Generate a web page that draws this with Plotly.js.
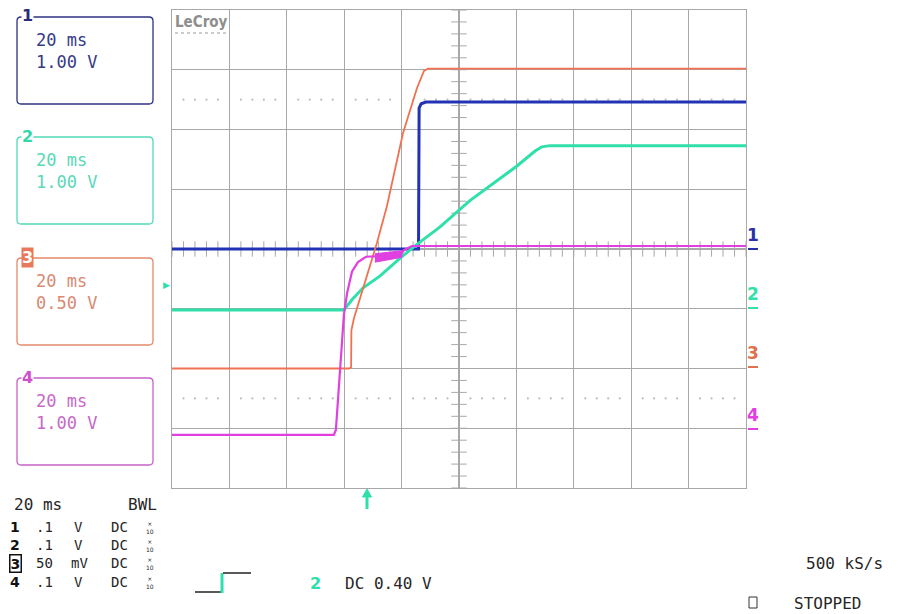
<!DOCTYPE html>
<html>
<head>
<meta charset="utf-8">
<script src="https://cdn.plot.ly/plotly-3.0.1.min.js"></script>
<style>html,body{margin:0;padding:0;background:#fff}#chart{width:899px;height:614px}</style>
</head>
<body>
<div id="chart"></div>
<script>
// ---- Data (time in ms, 20 ms/div; values in volts per channel) ----
const ch1Time = [0, 85.9, 86.1, 86.8, 88.5, 200];
const ch1Volt = [0, 0, 2.36, 2.43, 2.46, 2.46];

const ch2Time = [0, 59.9, 62.7, 66.6, 72.5, 80.5, 85.7, 93.4, 103.8, 120.2, 126.5, 128.9, 131.7, 200];
const ch2Volt = [-0.02, -0.02, 0.15, 0.35, 0.55, 0.89, 1.09, 1.37, 1.81, 2.39, 2.64, 2.71, 2.73, 2.73];

const ch3Time = [0, 61.7, 62.4, 62.5, 63.4, 64.8, 67.9, 71.4, 74.9, 80.5, 85.4, 87.8, 89.2, 200];
const ch3Volt = [0, 0, 0.01, 0.32, 0.42, 0.53, 0.77, 1.05, 1.36, 1.97, 2.35, 2.49, 2.51, 2.51];

const ch4Time = [0, 56.4, 57.1, 57.8, 58.9, 59.9, 61.0, 62.7, 64.8, 67.6, 72.5, 79.4, 80.8, 83.6, 200];
const ch4Volt = [-0.11, -0.11, -0.03, 0.47, 1.31, 1.90, 2.26, 2.62, 2.78, 2.87, 2.88, 2.88, 2.98, 3.05, 3.05];
// noisy envelope of channel 4 on its plateau
const ch4BandTime = [70.7, 80.1, 80.1, 70.7];
const ch4BandVolt = [2.92, 2.97, 2.86, 2.78];

// channel settings (text)
const chNames = ['1', '2', '3', '4'];
const chTimeDiv = ['20 ms', '20 ms', '20 ms', '20 ms'];
const chVoltDiv = ['1.00 V', '1.00 V', '0.50 V', '1.00 V'];
const probeScale = ['.1', '.1', '50', '.1'];
const probeUnit = ['V', 'V', 'mV', 'V'];
const coupling = ['DC', 'DC', 'DC', 'DC'];
const timebaseText = '20 ms';
const bwlText = 'BWL';
const trigText = 'DC 0.40 V';
const rateText = '500 kS/s';
const stateText = 'STOPPED';

// ---- Styling ----
const C1 = '#2232b4', C2 = '#2fe0aa', C3 = '#f07252', C4 = '#e040e0';
const BOX = ['#2e3282', '#52dab8', '#e48a6c', '#c862c8'];
const TXT = ['#353a86', '#5ad8b8', '#d98a72', '#c868c8'];
const NUMC = ['#2a2e7a', '#36d6a8', '#ffffff', '#d050d0'];
const GRID = '#a8a8a8';
const MONO = 'DejaVu Sans Mono, monospace';
const BOLD = 'DejaVu Sans, sans-serif';

const L = 172, R = 746, T = 10, B = 488;
const px = x => (x - L) / (R - L);
const py = y => (B - y) / (B - T);

// ---- Grid decorations ----
const ctrTickY = [], ctrTickX = [];
for (let i = 0; i <= 40; i++) ctrTickY.push(-4 + i * 0.2);
for (let i = 0; i <= 50; i++) ctrTickX.push(i * 4);
const dotX = [], dotYu = [], dotYl = [];
for (let d = 0; d < 10; d++) for (let k = 1; k <= 4; k++) { dotX.push(d * 20 + k * 4); dotYu.push(2.5); dotYl.push(-2.5); }

const traces = [
  {x: ctrTickY.map(() => 100), y: ctrTickY, mode: 'markers', hoverinfo: 'skip',
   marker: {symbol: 'line-ew', size: 11, line: {width: 1, color: GRID}}},
  {x: ctrTickX, y: ctrTickX.map(() => 0), mode: 'markers', hoverinfo: 'skip',
   marker: {symbol: 'line-ns', size: 11, line: {width: 1, color: GRID}}},
  {x: dotX.concat(dotX), y: dotYu.concat(dotYl), mode: 'markers', hoverinfo: 'skip',
   marker: {symbol: 'circle', size: 2.2, color: '#bdbdbd'}},
  {x: ch1Time, y: ch1Volt, mode: 'lines', line: {color: C1, width: 3}, yaxis: 'y'},
  {x: ch2Time, y: ch2Volt, mode: 'lines', line: {color: C2, width: 3}, yaxis: 'y2'},
  {x: ch3Time, y: ch3Volt, mode: 'lines', line: {color: C3, width: 1.8}, yaxis: 'y3'},
  {x: ch4BandTime, y: ch4BandVolt, mode: 'lines', fill: 'toself', fillcolor: C4, line: {color: C4, width: 1}, yaxis: 'y4'},
  {x: ch4Time, y: ch4Volt, mode: 'lines', line: {color: C4, width: 2.2}, yaxis: 'y4'}
];

// ---- Shapes ----
function rr(x0, y0, x1, y1, r) {
  const X = v => px(v).toFixed(5), Y = v => py(v).toFixed(5);
  return `M ${X(x0 + r)},${Y(y0)} L ${X(x1 - r)},${Y(y0)} Q ${X(x1)},${Y(y0)} ${X(x1)},${Y(y0 + r)} ` +
         `L ${X(x1)},${Y(y1 - r)} Q ${X(x1)},${Y(y1)} ${X(x1 - r)},${Y(y1)} L ${X(x0 + r)},${Y(y1)} ` +
         `Q ${X(x0)},${Y(y1)} ${X(x0)},${Y(y1 - r)} L ${X(x0)},${Y(y0 + r)} Q ${X(x0)},${Y(y0)} ${X(x0 + r)},${Y(y0)} Z`;
}
const boxTops = [17, 137, 258, 378];
const shapes = [];
const annotations = [];
boxTops.forEach((top, i) => {
  shapes.push({type: 'path', xref: 'paper', yref: 'paper', path: rr(17, top, 153, top + 87, 4),
               line: {color: BOX[i], width: 1.3}});
  annotations.push({xref: 'paper', yref: 'paper', x: px(34), y: py(top + 23), xanchor: 'left', yanchor: 'middle',
                    text: chTimeDiv[i], showarrow: false, font: {family: MONO, size: 17, color: TXT[i]}});
  annotations.push({xref: 'paper', yref: 'paper', x: px(34), y: py(top + 45), xanchor: 'left', yanchor: 'middle',
                    text: chVoltDiv[i], showarrow: false, font: {family: MONO, size: 17, color: TXT[i]}});
  annotations.push({xref: 'paper', yref: 'paper', x: px(27.5), y: py(top - 1), xanchor: 'center', yanchor: 'middle',
                    text: '<b>' + chNames[i] + '</b>', showarrow: false, borderpad: 0,
                    bgcolor: i === 2 ? '#e8785a' : '#ffffff',
                    font: {family: BOLD, size: 16, color: NUMC[i]}});
});

// right-side ground markers
const gndY = [249, 308, 367, 429];
const sideC = ['#2a30a8', C2, '#e0704e', C4];
gndY.forEach((g, i) => {
  shapes.push({type: 'line', xref: 'paper', yref: 'paper', x0: px(748), x1: px(758), y0: py(g), y1: py(g),
               line: {color: sideC[i], width: 2}});
  annotations.push({xref: 'paper', yref: 'paper', x: px(753), y: py(g - 2), xanchor: 'center', yanchor: 'bottom',
                    text: '<b>' + chNames[i] + '</b>', showarrow: false,
                    font: {family: BOLD, size: 17, color: sideC[i]}});
});

// LeCroy logo
annotations.push({xref: 'paper', yref: 'paper', x: px(173), y: py(11), xanchor: 'left', yanchor: 'top',
                  text: '<b>LeCroy</b>', showarrow: false, font: {family: 'DejaVu Sans Condensed, DejaVu Sans', size: 15, color: '#8e8e8e'}});
shapes.push({type: 'line', xref: 'paper', yref: 'paper', x0: px(175), x1: px(227), y0: py(33), y1: py(33),
             line: {color: '#9a9a9a', width: 1, dash: 'dot'}});

// trigger level marker
annotations.push({xref: 'paper', yref: 'paper', x: px(166), y: py(285), xanchor: 'center', yanchor: 'middle',
                  text: '▶', showarrow: false, font: {family: BOLD, size: 9, color: C2}});
// trigger time arrow
shapes.push({type: 'line', xref: 'paper', yref: 'paper', x0: px(367), x1: px(367), y0: py(495), y1: py(509),
             line: {color: C2, width: 3}});
shapes.push({type: 'path', xref: 'paper', yref: 'paper',
             path: `M ${px(362.5)},${py(497)} L ${px(371.5)},${py(497)} L ${px(367)},${py(489)} Z`,
             fillcolor: C2, line: {color: C2, width: 1}});

// bottom-left status block
const DARK = '#262626';
annotations.push({xref: 'paper', yref: 'paper', x: px(12), y: py(504), xanchor: 'left', yanchor: 'middle',
                  text: timebaseText, showarrow: false, font: {family: MONO, size: 16, color: DARK}});
annotations.push({xref: 'paper', yref: 'paper', x: px(159), y: py(504), xanchor: 'right', yanchor: 'middle',
                  text: bwlText, showarrow: false, font: {family: MONO, size: 16, color: DARK}});
const rowY = [527, 545, 563, 582];
rowY.forEach((ry, i) => {
  annotations.push({xref: 'paper', yref: 'paper', x: px(15), y: py(ry), xanchor: 'center', yanchor: 'middle',
                    text: '<b>' + chNames[i] + '</b>', showarrow: false,
                    bordercolor: i === 2 ? '#111' : 'rgba(0,0,0,0)', borderwidth: i === 2 ? 1.5 : 0, borderpad: 0,
                    font: {family: BOLD, size: 14, color: '#111'}});
  annotations.push({xref: 'paper', yref: 'paper', x: px(34), y: py(ry), xanchor: 'left', yanchor: 'middle',
                    text: probeScale[i], showarrow: false, font: {family: MONO, size: 14, color: DARK}});
  annotations.push({xref: 'paper', yref: 'paper', x: px(i === 2 ? 69 : 72), y: py(ry), xanchor: 'left', yanchor: 'middle',
                    text: probeUnit[i], showarrow: false, font: {family: MONO, size: 14, color: DARK}});
  annotations.push({xref: 'paper', yref: 'paper', x: px(109), y: py(ry), xanchor: 'left', yanchor: 'middle',
                    text: coupling[i], showarrow: false, font: {family: MONO, size: 14, color: DARK}});
  annotations.push({xref: 'paper', yref: 'paper', x: px(150), y: py(ry), xanchor: 'center', yanchor: 'middle',
                    text: '×<br>10', showarrow: false, font: {family: BOLD, size: 6, color: DARK}});
});

// trigger icon
shapes.push({type: 'line', xref: 'paper', yref: 'paper', x0: px(195), x1: px(221), y0: py(592), y1: py(592), line: {color: '#222', width: 1.5}});
shapes.push({type: 'line', xref: 'paper', yref: 'paper', x0: px(222), x1: px(222), y0: py(593), y1: py(573), line: {color: C2, width: 3}});
shapes.push({type: 'line', xref: 'paper', yref: 'paper', x0: px(223), x1: px(251), y0: py(573), y1: py(573), line: {color: '#222', width: 1.5}});
annotations.push({xref: 'paper', yref: 'paper', x: px(315), y: py(583), xanchor: 'center', yanchor: 'middle',
                  text: '<b>2</b>', showarrow: false, font: {family: BOLD, size: 16, color: C2}});
annotations.push({xref: 'paper', yref: 'paper', x: px(343), y: py(583), xanchor: 'left', yanchor: 'middle',
                  text: trigText, showarrow: false, font: {family: MONO, size: 16, color: DARK}});

// bottom-right
annotations.push({xref: 'paper', yref: 'paper', x: px(804), y: py(563), xanchor: 'left', yanchor: 'middle',
                  text: rateText, showarrow: false, font: {family: MONO, size: 16, color: DARK}});
shapes.push({type: 'rect', xref: 'paper', yref: 'paper', x0: px(749), x1: px(757), y0: py(597), y1: py(608),
             line: {color: '#333', width: 1}});
annotations.push({xref: 'paper', yref: 'paper', x: px(792), y: py(603), xanchor: 'left', yanchor: 'middle',
                  text: stateText, showarrow: false, font: {family: MONO, size: 16, color: DARK}});

const layout = {
  width: 899, height: 614,
  margin: {l: L, r: 899 - R, t: T, b: 614 - B, pad: 0},
  paper_bgcolor: '#ffffff', plot_bgcolor: '#ffffff',
  showlegend: false,
  xaxis: {range: [0, 200], dtick: 20, tick0: 0, showgrid: true, gridcolor: GRID, gridwidth: 1.3,
          zeroline: false, showticklabels: false, ticks: '', showline: true, mirror: true, linecolor: GRID, linewidth: 1.3,
          fixedrange: true},
  yaxis: {range: [-4, 4], dtick: 1, tick0: 0, showgrid: true, gridcolor: GRID, gridwidth: 1.3,
          zeroline: false, showticklabels: false, ticks: '', showline: true, mirror: true, linecolor: GRID, linewidth: 1.3,
          fixedrange: true},
  yaxis2: {range: [-3, 5], overlaying: 'y', visible: false, fixedrange: true},
  yaxis3: {range: [-1, 3], overlaying: 'y', visible: false, fixedrange: true},
  yaxis4: {range: [-1, 7], overlaying: 'y', visible: false, fixedrange: true},
  shapes: shapes,
  annotations: annotations
};

Plotly.newPlot('chart', traces, layout, {staticPlot: true, displayModeBar: false});
</script>
</body>
</html>
